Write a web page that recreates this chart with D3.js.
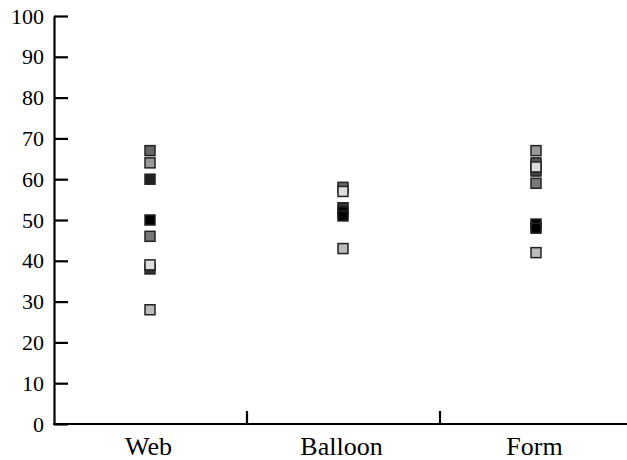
<!DOCTYPE html>
<html><head><meta charset="utf-8">
<script src="https://cdn.jsdelivr.net/npm/d3@7"></script>
</head><body style="margin:0">
<svg id="c" width="627" height="460"></svg>
<script>
const categories = ["Web", "Balloon", "Form"];
const yTicks = [0, 10, 20, 30, 40, 50, 60, 70, 80, 90, 100];
// points per category (drawing order as in reference) and their fills
const webValues     = [67, 64, 60, 50, 46, 38, 39, 28];
const webFills      = ["#666", "#999", "#222", "#000", "#777", "#333", "#ddd", "#bbb"];
const balloonValues = [58, 57, 53, 52, 51, 43];
const balloonFills  = ["#666", "#ddd", "#333", "#000", "#000", "#bbb"];
const formValues    = [67, 64, 62, 63, 59, 49, 48, 42];
const formFills     = ["#999", "#555", "#444", "#ddd", "#777", "#000", "#000", "#bbb"];

const points = [];
[[webValues, webFills, "Web"], [balloonValues, balloonFills, "Balloon"], [formValues, formFills, "Form"]]
  .forEach(([vals, fills, cat]) => vals.forEach((v, i) => points.push({ cat, v, fill: fills[i] })));

const svg = d3.select("#c");
const mLeft = 54, mRight = 633, mTop = 16, mBottom = 424;
const x = d3.scaleBand().domain(categories).range([mLeft, mRight]).padding(0);
const y = d3.scaleLinear().domain([0, 100]).range([mBottom, mTop]);

// y axis line and ticks
const ya = svg.append("g").attr("transform", `translate(${mLeft},0)`)
  .call(d3.axisLeft(y).tickValues(yTicks).tickSize(-14).tickFormat("").tickSizeOuter(0));
ya.select(".domain").attr("stroke", "#000").attr("stroke-width", 2.2);
ya.selectAll(".tick line").attr("stroke", "#000").attr("stroke-width", 2.2);

// x axis line and separator ticks
const xa = svg.append("g").attr("transform", `translate(0,${mBottom})`)
  .call(d3.axisBottom(x).tickSize(0).tickFormat("").tickSizeOuter(0));
xa.select(".domain").attr("stroke", "#000").attr("stroke-width", 2.2).attr("d", `M${mLeft - 1},0H${mRight}`);
xa.selectAll(".sep").data(categories.slice(1)).enter().append("line")
  .attr("class", "sep")
  .attr("x1", d => x(d)).attr("x2", d => x(d))
  .attr("y1", 0).attr("y2", -13)
  .attr("stroke", "#000").attr("stroke-width", 2.2);

// y tick labels, directly in the svg
svg.selectAll("text.ylab").data(yTicks).enter().append("text")
  .attr("class", "ylab")
  .attr("x", mLeft - 10)
  .attr("y", d => y(d) + 7.5)
  .attr("text-anchor", "end")
  .style("font-family", d => `"Liberation Serif"`)
  .style("font-size", "22px")
  .text(d => d);

// category labels, directly in the svg
svg.selectAll("text.xlab").data(categories).enter().append("text")
  .attr("class", "xlab")
  .attr("x", d => x(d) + x.bandwidth() / 2 - 2)
  .attr("y", 455)
  .attr("text-anchor", "middle")
  .style("font-family", d => `"Liberation Serif"`)
  .style("font-size", "26px")
  .text(d => d);

// points
const s = 10;
svg.append("g").selectAll("rect").data(points).enter().append("rect")
  .attr("x", d => x(d.cat) + x.bandwidth() / 2 - s / 2 - 0.5)
  .attr("y", d => y(d.v) - s / 2)
  .attr("width", s).attr("height", s)
  .attr("fill", d => d.fill)
  .attr("stroke", "#222").attr("stroke-width", 1.5);
</script>
</body></html>
